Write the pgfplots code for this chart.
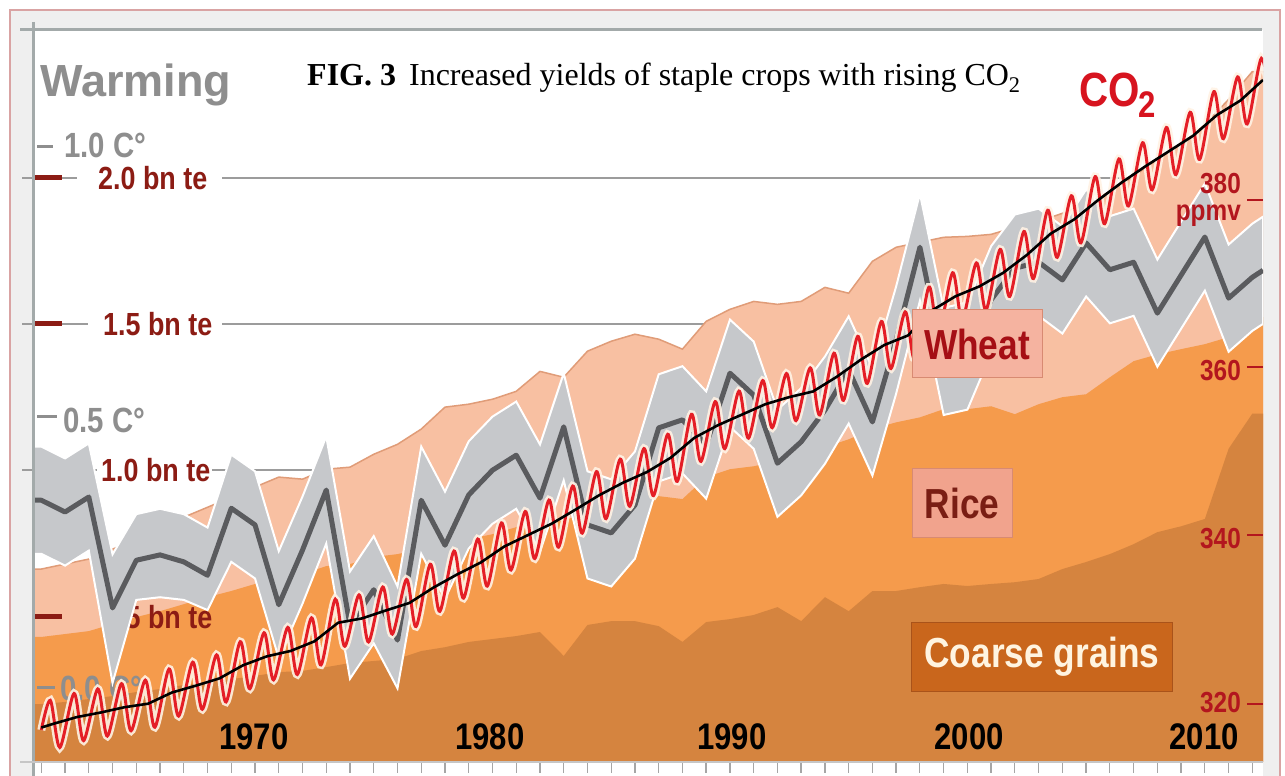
\documentclass[border=0pt]{standalone}
\usepackage{pgfplots}
\pgfplotsset{compat=1.18}
\usepackage{pgfplotstable}
\usepackage{fontspec}
\setmainfont{Liberation Sans}
\newfontfamily\cond[FakeStretch=0.84]{Liberation Sans}
\newfontfamily\tim{Liberation Serif}
\definecolor{wheatc}{HTML}{F8C0A2}
\definecolor{wheatedge}{HTML}{E09C78}
\definecolor{ricec}{HTML}{F59B4C}
\definecolor{coarsec}{HTML}{D5843F}
\definecolor{bandc}{HTML}{C6C8CB}
\definecolor{templine}{HTML}{5A5B5E}
\definecolor{co2red}{HTML}{E41E26}
\definecolor{co2halo}{HTML}{FFF2E4}
\definecolor{tonred}{HTML}{8C1C14}
\definecolor{ppmred}{HTML}{B3161E}
\definecolor{warmgrey}{HTML}{8E8E8E}
\definecolor{framebg}{HTML}{EFEFEF}
\definecolor{framepink}{HTML}{D9A3A3}
\definecolor{spine}{HTML}{A3AAAA}
\definecolor{gridc}{HTML}{9C9C9C}
\definecolor{wheatbox}{HTML}{F5B3A0}
\definecolor{boxedge}{HTML}{D88A72}
\definecolor{wheattext}{HTML}{A50F15}
\definecolor{ricebox}{HTML}{F1A38D}
\definecolor{ricetext}{HTML}{7A1E14}
\definecolor{coarsebox}{HTML}{C9661C}
\definecolor{coarseedge}{HTML}{A9531A}
\definecolor{coarsetext}{HTML}{FFF4E0}
\definecolor{co2lab}{HTML}{D7141F}

% cumulative tops of the stacked areas (bn tonnes)
\pgfplotstableread{
year coarse rice wheat
1960.65 0.198 0.427 0.659
1961 0.198 0.427 0.659
1962 0.205 0.437 0.676
1963 0.215 0.447 0.693
1964 0.225 0.471 0.727
1965 0.239 0.495 0.761
1966 0.249 0.515 0.795
1967 0.263 0.539 0.836
1968 0.273 0.563 0.870
1969 0.283 0.584 0.904
1970 0.294 0.608 0.939
1971 0.307 0.625 0.973
1972 0.311 0.642 0.966
1973 0.324 0.669 1.000
1974 0.338 0.676 1.007
1975 0.345 0.700 1.051
1976 0.352 0.710 1.085
1977 0.379 0.727 1.137
1978 0.392 0.741 1.212
1979 0.410 0.761 1.222
1980 0.420 0.778 1.239
1981 0.430 0.802 1.266
1982 0.444 0.829 1.334
1983 0.362 0.823 1.314
1984 0.468 0.857 1.403
1985 0.481 0.881 1.437
1986 0.481 0.898 1.461
1987 0.464 0.908 1.444
1988 0.410 0.898 1.410
1989 0.478 0.973 1.505
1990 0.488 1.000 1.546
1991 0.502 1.010 1.573
1992 0.529 1.027 1.563
1993 0.481 1.061 1.573
1994 0.563 1.075 1.621
1995 0.515 1.102 1.601
1996 0.584 1.137 1.710
1997 0.584 1.160 1.758
1998 0.597 1.177 1.775
1999 0.608 1.205 1.792
2000 0.601 1.205 1.795
2001 0.608 1.215 1.802
2002 0.614 1.188 1.826
2003 0.625 1.222 1.846
2004 0.659 1.246 1.874
2005 0.683 1.256 1.904
2006 0.710 1.314 1.949
2007 0.744 1.369 2.000
2008 0.785 1.392 2.058
2009 0.805 1.410 2.109
2010 0.830 1.427 2.177
2011 1.070 1.451 2.263
2012 1.190 1.519 2.358
2012.45 1.190 1.519 2.358
}\crops

% temperature anomaly (deg C)
\pgfplotstableread{
year t
1960.65 0.341
1961 0.341
1962 0.319
1963 0.347
1964 0.140
1965 0.229
1966 0.239
1967 0.226
1968 0.201
1969 0.326
1970 0.295
1971 0.146
1972 0.248
1973 0.360
1974 0.108
1975 0.174
1976 0.080
1977 0.341
1978 0.257
1979 0.351
1980 0.397
1981 0.425
1982 0.345
1983 0.478
1984 0.295
1985 0.280
1986 0.332
1987 0.476
1988 0.491
1989 0.444
1990 0.578
1991 0.537
1992 0.410
1993 0.450
1994 0.509
1995 0.584
1996 0.487
1997 0.640
1998 0.813
1999 0.600
2000 0.610
2001 0.715
2002 0.774
2003 0.785
2004 0.752
2005 0.821
2006 0.771
2007 0.785
2008 0.690
2009 0.761
2010 0.832
2011 0.718
2012 0.757
2012.45 0.770
}\temps

% uncertainty band outline: upper edge left to right, lower edge right to left
\pgfplotstableread{
year v
1960.65 0.441
1961 0.441
1962 0.419
1963 0.447
1964 0.240
1965 0.315
1966 0.325
1967 0.315
1968 0.290
1969 0.426
1970 0.395
1971 0.246
1972 0.348
1973 0.460
1974 0.208
1975 0.274
1976 0.180
1977 0.441
1978 0.357
1979 0.451
1980 0.497
1981 0.525
1982 0.445
1983 0.578
1984 0.395
1985 0.380
1986 0.432
1987 0.576
1988 0.591
1989 0.544
1990 0.678
1991 0.637
1992 0.510
1993 0.550
1994 0.609
1995 0.684
1996 0.587
1997 0.740
1998 0.913
1999 0.700
2000 0.710
2001 0.815
2002 0.874
2003 0.885
2004 0.852
2005 0.921
2006 0.871
2007 0.885
2008 0.790
2009 0.861
2010 0.932
2011 0.818
2012 0.857
2012.45 0.870
2012.45 0.670
2012 0.657
2011 0.618
2010 0.732
2009 0.661
2008 0.590
2007 0.685
2006 0.671
2005 0.721
2004 0.652
2003 0.685
2002 0.674
2001 0.615
2000 0.510
1999 0.500
1998 0.713
1997 0.540
1996 0.387
1995 0.484
1994 0.409
1993 0.350
1992 0.310
1991 0.437
1990 0.478
1989 0.344
1988 0.391
1987 0.376
1986 0.232
1985 0.180
1984 0.195
1983 0.378
1982 0.245
1981 0.325
1980 0.297
1979 0.251
1978 0.157
1977 0.241
1976 -0.010
1975 0.074
1974 0.008
1973 0.260
1972 0.148
1971 0.046
1970 0.195
1969 0.226
1968 0.136
1967 0.155
1966 0.160
1965 0.155
1964 0.000
1963 0.247
1962 0.219
1961 0.241
1960.65 0.241
}\band

% CO2 seasonal cycle: spring maxima and autumn minima (ppmv)
\pgfplotstableread{
t ppm
1961.00 316.90
1961.38 320.44
1961.78 314.84
1962.38 321.25
1962.78 315.65
1963.38 321.79
1963.78 316.19
1964.38 322.42
1964.78 316.82
1965.38 322.84
1965.78 317.24
1966.38 324.17
1966.78 318.57
1967.38 324.98
1967.78 319.38
1968.38 325.85
1968.78 320.25
1969.38 327.42
1969.78 321.82
1970.38 328.48
1970.78 322.88
1971.38 329.12
1971.78 323.52
1972.38 330.26
1972.78 324.66
1973.38 332.48
1973.78 326.88
1974.38 332.99
1974.78 327.39
1975.38 333.93
1975.78 328.33
1976.38 334.83
1976.78 329.23
1977.38 336.64
1977.78 331.04
1978.38 338.21
1978.78 332.61
1979.38 339.64
1979.78 334.04
1980.38 341.56
1980.78 335.96
1981.38 342.92
1981.78 337.32
1982.38 344.28
1982.78 338.68
1983.38 345.95
1983.78 340.35
1984.38 347.67
1984.78 342.07
1985.38 349.15
1985.78 343.55
1986.38 350.41
1986.78 344.81
1987.38 352.11
1987.78 346.51
1988.38 354.49
1988.78 348.89
1989.38 356.00
1989.78 350.40
1990.38 357.25
1990.78 351.65
1991.38 358.50
1991.78 352.90
1992.38 359.34
1992.78 353.74
1993.38 360.01
1993.78 354.41
1994.38 361.76
1994.78 356.16
1995.38 363.77
1995.78 358.17
1996.38 365.54
1996.78 359.94
1997.38 366.68
1997.78 361.08
1998.38 369.64
1998.78 364.04
1999.38 371.34
1999.78 365.74
2000.38 372.51
2000.78 366.91
2001.38 374.12
2001.78 368.52
2002.38 376.25
2002.78 370.65
2003.38 378.78
2003.78 373.18
2004.38 380.50
2004.78 374.90
2005.38 382.78
2005.78 377.18
2006.38 384.89
2006.78 379.29
2007.38 386.82
2007.78 381.22
2008.38 388.63
2008.78 383.03
2009.38 390.44
2009.78 384.84
2010.38 392.90
2010.78 387.30
2011.38 394.65
2011.78 389.05
2012.38 396.86
2012.78 391.26
}\cotwo

% CO2 annual means (ppmv)
\pgfplotstableread{
t ppm
1961.0 317.20
1961.5 317.64
1962.5 318.45
1963.5 318.99
1964.5 319.62
1965.5 320.04
1966.5 321.37
1967.5 322.18
1968.5 323.05
1969.5 324.62
1970.5 325.68
1971.5 326.32
1972.5 327.46
1973.5 329.68
1974.5 330.19
1975.5 331.13
1976.5 332.03
1977.5 333.84
1978.5 335.41
1979.5 336.84
1980.5 338.76
1981.5 340.12
1982.5 341.48
1983.5 343.15
1984.5 344.87
1985.5 346.35
1986.5 347.61
1987.5 349.31
1988.5 351.69
1989.5 353.20
1990.5 354.45
1991.5 355.70
1992.5 356.54
1993.5 357.21
1994.5 358.96
1995.5 360.97
1996.5 362.74
1997.5 363.88
1998.5 366.84
1999.5 368.54
2000.5 369.71
2001.5 371.32
2002.5 373.45
2003.5 375.98
2004.5 377.70
2005.5 379.98
2006.5 382.09
2007.5 384.02
2008.5 385.83
2009.5 387.64
2010.5 390.10
2011.5 391.85
2012.45 394.30
}\cotwomean

\pgfplotsset{
  layerax/.style={
    at={(33pt,14pt)}, anchor=south west,
    width=1230pt, height=732pt, scale only axis,
    xmin=1960.65, xmax=2012.45,
  }
}

\begin{document}
\begin{tikzpicture}
\useasboundingbox (0,0) rectangle (1285pt,776pt);
\begin{scope}[x=1pt,y=-1pt,yshift=776pt]
  \fill[white] (0,0) rectangle (1285,776);
  \filldraw[fill=framebg,draw=framepink,line width=1.5pt] (10,10) rectangle (1280,790);
  \fill[white] (33,30) rectangle (1263,776);
  % gridlines for tonnes
  \draw[gridc,line width=2.5pt] (22,178) -- (77,178) (222,178) -- (1262,178);
  \draw[gridc,line width=2.5pt] (22,324) -- (88,324) (222,324) -- (1262,324);
  \draw[gridc,line width=2.5pt] (22,470) -- (97,470) (212,470) -- (1262,470);
\end{scope}

% ---- crop production (bn tonnes)
\begin{axis}[layerax, ymin=0, ymax=2.5,
  axis line style={draw=none}, ytick=\empty,
  xtick={1961,...,2012}, xticklabels={}, xtick pos=bottom,
  xtick align=outside, major tick length=11pt,
  tick style={gray!70, line width=1.3pt}]
  \addplot[fill=wheatc, draw=none] table[x=year,y=wheat]{\crops} \closedcycle;
  \addplot[wheatedge, line width=1.5pt] table[x=year,y=wheat]{\crops};
  \addplot[fill=ricec, draw=none] table[x=year,y=rice]{\crops} \closedcycle;
  \addplot[fill=coarsec, draw=none] table[x=year,y=coarse]{\crops} \closedcycle;
\end{axis}

% ---- left scale labels
\begin{scope}[x=1pt,y=-1pt,yshift=776pt]
  \foreach \yy in {178,324,470,617} \draw[tonred,line width=5pt] (33,\yy) -- (62,\yy);
  \begin{scope}[every node/.style={inner sep=0pt, anchor=west, text=tonred,
      font=\cond\bfseries\fontsize{32}{34}\selectfont}]
    \node at (98,178) {2.0 bn te};
    \node at (103,324) {1.5 bn te};
    \node at (101,470) {1.0 bn te};
    \node at (103,617) {0.5 bn te};
  \end{scope}
  \draw[warmgrey,line width=3pt] (37,147) -- (53,147);
  \draw[warmgrey,line width=3pt] (37,417) -- (57,417);
  \draw[warmgrey,line width=3pt] (37,688) -- (55,688);
  \begin{scope}[every node/.style={inner sep=0pt, anchor=west, text=warmgrey,
      font=\cond\bfseries\fontsize{35}{37}\selectfont}]
    \node at (64,145) {1.0 C°};
    \node at (63,420) {0.5 C°};
    \node at (60,688) {0.0 C°};
  \end{scope}
\end{scope}

% ---- temperature
\begin{axis}[layerax, ymin=-0.1474, ymax=1.2183, hide axis]
  \addplot[fill=bandc, draw=white, line width=2pt, line join=miter] table[x=year,y=v]{\band} -- cycle;
  \addplot[templine, line width=5pt, line join=round] table[x=year,y=t]{\temps};
\end{axis}

% ---- CO2
\begin{axis}[layerax, ymin=313.1, ymax=400.24, hide axis]
  \addplot[co2halo, opacity=0.9, line width=8pt, smooth] table[x=t,y=ppm]{\cotwo};
  \addplot[co2red, line width=3pt, smooth] table[x=t,y=ppm]{\cotwo};
  \addplot[black, line width=2.6pt, line join=round] table[x=t,y=ppm]{\cotwomean};
\end{axis}

% ---- annotations
\begin{scope}[x=1pt,y=-1pt,yshift=776pt]
  % frame lines
  \draw[spine,line width=3pt] (20,30) -- (1262,30);
  \draw[spine,line width=3pt] (33,22) -- (33,776);
  \draw[gray!45,line width=2pt] (20,762) -- (1263,762);
  % title
  \node[anchor=base west, inner sep=0pt, font=\tim\fontsize{32}{34}\selectfont]
    at (307,86) {\textbf{FIG. 3}\hspace{13pt}Increased yields of staple crops with rising CO\textsubscript{2}};
  % Warming
  \node[anchor=base west, inner sep=0pt, text=warmgrey,
    font=\bfseries\fontsize{45}{47}\selectfont] at (40,97) {Warming};
  % CO2
  \node[anchor=base west, inner sep=0pt, text=co2lab,
    font=\cond\bfseries\fontsize{48}{50}\selectfont] at (1079,107) {CO};
  \node[anchor=base west, inner sep=0pt, text=co2lab,
    font=\cond\bfseries\fontsize{37}{39}\selectfont] at (1138,118) {2};
  % right CO2 scale
  \foreach \yy in {200,367,535,704} \draw[ppmred,line width=2.2pt] (1247,\yy) -- (1263,\yy);
  \begin{scope}[every node/.style={inner sep=0pt, text=ppmred,
      font=\cond\bfseries\fontsize{29}{30}\selectfont}]
    \node[anchor=base east] at (1241,194) {380};
    \node[anchor=base east] at (1241,221) {ppmv};
    \node[anchor=east] at (1241,371) {360};
    \node[anchor=east] at (1241,539) {340};
    \node[anchor=east] at (1241,703) {320};
  \end{scope}
  % crop boxes
  \node[fill=wheatbox, draw=boxedge, line width=1pt, minimum width=130pt,
    minimum height=68pt, inner sep=0pt, text=wheattext,
    font=\cond\bfseries\fontsize{42}{44}\selectfont] at (977,344) {Wheat};
  \node[fill=ricebox, draw=boxedge, line width=1pt, minimum width=100pt,
    minimum height=69pt, inner sep=0pt, text=ricetext,
    font=\cond\bfseries\fontsize{42}{44}\selectfont] at (962,503) {Rice};
  \node[fill=coarsebox, draw=coarseedge, line width=1pt, minimum width=261pt,
    minimum height=69pt, inner sep=0pt, text=coarsetext,
    font=\cond\bfseries\fontsize{42}{44}\selectfont] at (1042,657) {Coarse grains};
  % decade labels
  \begin{scope}[every node/.style={inner sep=0pt, anchor=base,
      font=\cond\bfseries\fontsize{37}{39}\selectfont}]
    \node at (254,750) {1970};
    \node at (490,750) {1980};
    \node at (732,750) {1990};
    \node at (969,750) {2000};
    \node at (1204,750) {2010};
  \end{scope}
\end{scope}
\end{tikzpicture}
\end{document}
